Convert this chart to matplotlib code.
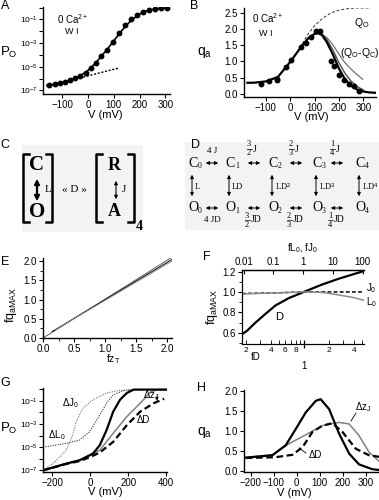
import numpy as np
import matplotlib
matplotlib.use("Agg")
import matplotlib.pyplot as plt
from matplotlib.patches import Rectangle, FancyArrowPatch
from matplotlib.lines import Line2D
from matplotlib.ticker import FixedLocator, FixedFormatter, NullLocator, MultipleLocator

plt.rcParams["font.family"] = ["Liberation Sans", "DejaVu Sans"]
plt.rcParams["mathtext.fontset"] = "custom"
plt.rcParams["mathtext.rm"] = "Liberation Sans"
plt.rcParams["mathtext.it"] = "Liberation Sans:italic"
plt.rcParams["mathtext.bf"] = "Liberation Sans:bold"

W, H = 379, 500

# ---- panel A: Po(V), log10 values
a_dot_v = [-152, -130, -110, -90, -70, -50, -30, -10, 10, 30, 50, 72, 95, 120, 145, 166, 188, 212, 236, 260, 283, 305]
a_dot_logp = [-6.52, -6.45, -6.37, -6.27, -6.15, -5.98, -5.75, -5.5, -5.12, -4.65, -4.12, -3.55, -2.9, -2.15, -1.5, -1.0, -0.62, -0.35, -0.2, -0.1, -0.07, -0.06]
a_line_v = [-160, -125, -100, -75, -50, -25, 0, 25, 50, 75, 100, 125, 150, 175, 200, 225, 250, 275, 312]
a_line_logp = [-6.58, -6.45, -6.33, -6.18, -5.98, -5.68, -5.3, -4.78, -4.15, -3.5, -2.8, -2.1, -1.45, -0.95, -0.55, -0.3, -0.15, -0.08, -0.05]
a_slope_v = [-160, 120]
a_slope_logp = [-6.66, -5.1]

# ---- panel B: qa(V)
b_dot_v = [-121, -86, -55, -55, -18, 3, 44, 64, 85, 105, 123, 167, 181, 201, 222, 242, 260, 284]
b_dot_q = [0.31, 0.39, 0.41, 0.46, 0.83, 1.04, 1.43, 1.56, 1.75, 1.93, 1.93, 1.01, 0.86, 0.57, 0.42, 0.31, 0.23, 0.08]
b_fit_v = [-175, -150, -100, -50, 0, 25, 50, 75, 100, 115, 130, 150, 175, 200, 225, 250, 275, 300, 325, 352]
b_fit_q = [0.34, 0.34, 0.38, 0.52, 0.98, 1.24, 1.5, 1.72, 1.85, 1.87, 1.82, 1.6, 1.22, 0.78, 0.45, 0.25, 0.13, 0.07, 0.04, 0.03]
b_mid_v = [115, 130, 150, 175, 200, 225, 250, 275, 300]
b_mid_q = [1.87, 1.84, 1.68, 1.36, 0.96, 0.63, 0.39, 0.22, 0.12]
b_diff_v = [115, 130, 150, 175, 200, 225, 250, 275, 297]
b_diff_q = [1.87, 1.84, 1.74, 1.52, 1.22, 0.96, 0.76, 0.59, 0.45]
b_qo_v = [40, 50, 75, 100, 125, 150, 175, 200, 225, 250, 275, 300, 330]
b_qo_q = [1.42, 1.55, 1.86, 2.1, 2.28, 2.42, 2.52, 2.58, 2.62, 2.64, 2.65, 2.65, 2.65]

# ---- panel E: fqaMAX vs fzT
e_x1 = [0.0, 2.08]
e_y1 = [0.0, 2.1]
e_x2 = [0.15, 2.08]
e_y2 = [0.17, 2.04]
e_x3 = [0.2, 2.08]
e_y3 = [0.22, 2.0]

# ---- panel F
f_d_x = [0.18, 0.207, 0.262, 0.345, 0.456, 0.66, 1.0, 1.66, 2.64, 4.19, 5.3]
f_d_q = [0.585, 0.62, 0.70, 0.785, 0.868, 0.94, 1.0, 1.073, 1.13, 1.18, 1.205]
f_j0_x = [0.0087, 0.03, 0.1, 0.3, 1, 3, 10, 30, 112]
f_j0_q = [0.985, 0.988, 0.99, 0.995, 1.0, 1.0, 1.0, 1.0, 1.0]
f_l0_x = [0.0087, 0.1, 1, 3, 5, 10, 20, 50, 112]
f_l0_q = [0.98, 0.99, 1.0, 0.997, 0.993, 0.98, 0.965, 0.945, 0.918]

# ---- panel G: log10 Po(V) for the perturbed models
g_ctl_v = [-250, -128, -57, 14, 50, 86, 121, 157, 193, 229, 405]
g_ctl_logp = [-7.0, -6.42, -6.13, -5.55, -4.83, -3.52, -1.93, -0.91, -0.33, -0.04, -0.04]
g_dz_v = [-250, -128, -57, 14, 50, 121, 193, 264, 318, 355, 405]
g_dz_logp = [-7.0, -6.42, -6.13, -5.6, -5.26, -3.8, -2.36, -1.2, -0.25, -0.04, -0.04]
g_dd_v = [-250, -128, -57, 0, 50, 121, 193, 264, 336, 390]
g_dd_logp = [-7.0, -6.45, -6.2, -5.85, -5.46, -4.54, -3.1, -1.93, -1.2, -0.83]
g_dj_v = [-250, -190, -128, -93, -75, -39, 14, 86, 157, 229, 405]
g_dj_logp = [-7.0, -6.3, -5.28, -3.96, -2.8, -1.64, -0.91, -0.33, -0.1, -0.03, -0.02]
g_dl_v = [-250, -128, -57, -4, 50, 86, 121, 175, 229, 405]
g_dl_logp = [-5.0, -4.68, -4.39, -3.67, -2.22, -1.2, -0.48, -0.13, -0.03, -0.02]

# ---- panel H: qa(V) for the perturbed models
h_ctl_v = [-222, -106, -48, -4, 39, 83, 104, 141, 184, 228, 271, 329, 358]
h_ctl_q = [0.33, 0.39, 0.64, 1.05, 1.46, 1.75, 1.79, 1.54, 0.93, 0.43, 0.16, 0.04, 0.02]
h_dz_v = [-222, -106, -33, 39, 112, 184, 228, 271, 314, 358]
h_dz_q = [0.33, 0.40, 0.68, 0.9, 1.13, 1.21, 1.17, 0.88, 0.47, 0.24]
h_dd_v = [-222, -92, -19, 25, 68, 112, 155, 199, 257, 314, 358]
h_dd_q = [0.32, 0.34, 0.40, 0.59, 0.97, 1.13, 1.19, 0.97, 0.55, 0.39, 0.35]


def fx(px):
    return px / W


def fy(py):
    return 1 - py / H


def px_axes(fig, left, top, right, bottom):
    return fig.add_axes([left / W, 1 - bottom / H, (right - left) / W, (bottom - top) / H])


def style(ax):
    for s in ("top", "right"):
        ax.spines[s].set_visible(False)
    for s in ("left", "bottom"):
        ax.spines[s].set_linewidth(1.0)
    ax.tick_params(direction="out", length=3, width=0.8, labelsize=7, pad=1.5)
    ax.tick_params(which="minor", length=2, width=0.6)


def log_ticks(ax):
    ax.yaxis.set_major_locator(FixedLocator([10.0 ** k for k in range(-7, 1)]))
    labels = [r"$10^{%d}$" % k if k % 2 else "" for k in range(-7, 1)]
    ax.yaxis.set_major_formatter(FixedFormatter(labels))
    ax.yaxis.set_minor_locator(NullLocator())
    ax.tick_params(axis="y", labelsize=6, pad=1)


def label(fig, px, py, s, **kw):
    kw.setdefault("fontsize", 7)
    fig.text(fx(px), fy(py), s, ha=kw.pop("ha", "center"), va=kw.pop("va", "center"), **kw)


def arrow(fig, p0, p1, lw=0.8, ms=6, style="<|-|>"):
    a = FancyArrowPatch((fx(p0[0]), fy(p0[1])), (fx(p1[0]), fy(p1[1])),
                        arrowstyle=style, mutation_scale=ms, lw=lw, color="k",
                        transform=fig.transFigure)
    fig.add_artist(a)


def bracket(fig, x, y0, y1, dx, lw=1.8):
    pts_x = [fx(x + dx), fx(x), fx(x), fx(x + dx)]
    pts_y = [fy(y0), fy(y0), fy(y1), fy(y1)]
    fig.add_artist(Line2D(pts_x, pts_y, color="k", lw=lw, transform=fig.transFigure))


def serif(fig, px, py, s, size=9, **kw):
    label(fig, px, py, s, fontsize=size, family=["Liberation Serif", "DejaVu Serif"], **kw)


def frac(fig, px, py, num, den, suffix):
    serif(fig, px, py - 4.5, num, size=6)
    serif(fig, px, py + 4.5, den, size=6)
    fig.add_artist(Line2D([fx(px - 2.5), fx(px + 2.5)], [fy(py), fy(py)], color="k", lw=0.5,
                          transform=fig.transFigure))
    serif(fig, px + 4, py, suffix, size=7, ha="left")


def node(fig, px, py, letter, sub):
    serif(fig, px, py, letter, size=10)
    serif(fig, px + 5, py + 3, sub, size=5.5, ha="left")


fig = plt.figure(figsize=(W / 100, H / 100), dpi=100)

# ---------------- A
ax = px_axes(fig, 43, 7, 170, 94)
style(ax)
ax.set_yscale("log")
ax.plot(a_line_v, 10 ** np.array(a_line_logp), color="k", lw=1.2)
ax.plot(a_slope_v, 10 ** np.array(a_slope_logp), color="k", lw=1.0, ls=(0, (1.5, 1.2)))
ax.plot(a_dot_v, 10 ** np.array(a_dot_logp), "o", color="k", ms=3.2)
ax.set_xlim(-175, 318)
ax.set_ylim(10 ** -7.3, 10 ** 0.05)
log_ticks(ax)
ax.set_xticks([-100, 0, 100, 200, 300])
label(fig, 105, 115, "V (mV)", fontsize=8)
label(fig, 9, 52, r"P$_\mathrm{O}$", fontsize=9.5)
label(fig, 73, 19, r"0 Ca$^{2+}$", fontsize=7)
label(fig, 72, 32, "W I", fontsize=6.5)

# ---------------- B
ax = px_axes(fig, 244, 8, 376, 97)
style(ax)
ax.plot(b_qo_v, b_qo_q, color="0.2", lw=0.7, ls=(0, (3, 2)))
ax.plot(b_diff_v, b_diff_q, color="0.45", lw=0.9)
ax.plot(b_mid_v, b_mid_q, color="0.3", lw=1.0)
ax.plot(b_fit_v, b_fit_q, color="k", lw=1.6)
ax.plot(b_dot_v, b_dot_q, "o", color="k", ms=3.2)
ax.set_xlim(-189, 352)
ax.set_ylim(-0.1, 2.65)
ax.set_xticks([-100, 0, 100, 200, 300])
ax.set_yticks([0.0, 0.5, 1.0, 1.5, 2.0, 2.5])
ax.yaxis.set_major_formatter(FixedFormatter(["0.0", "0.5", "1.0", "1.5", "2.0", "2.5"]))
label(fig, 311, 117, "V (mV)", fontsize=8)
label(fig, 205, 52, r"q$_\mathrm{a}$", fontsize=10)
label(fig, 268, 18, r"0 Ca$^{2+}$", fontsize=7)
label(fig, 266, 33, "W I", fontsize=6.5)
label(fig, 362, 23, r"Q$_\mathrm{O}$", fontsize=7.5)
label(fig, 360, 53, r"(Q$_\mathrm{O}$-Q$_\mathrm{C}$)", fontsize=7.5)

# ---------------- C scheme
fig.add_artist(Rectangle((fx(22), fy(232)), (143 - 22) / W, (232 - 145) / H,
                         transform=fig.transFigure, facecolor="#f3f3f3", edgecolor="none"))
bracket(fig, 23, 154, 222, 6)
bracket(fig, 52, 154, 222, -6)
bracket(fig, 96, 154, 222, 6)
bracket(fig, 134, 154, 222, -6)
serif(fig, 37, 165, "C", size=15, weight="bold")
serif(fig, 37, 212, "O", size=15, weight="bold")
serif(fig, 114, 165, "R", size=13, weight="bold")
serif(fig, 114, 212, "A", size=13, weight="bold")
arrow(fig, (37, 176), (37, 204), lw=1.6, ms=7)
arrow(fig, (116, 178), (116, 202), lw=0.8, ms=5)
serif(fig, 45, 190, "L", size=8, ha="left")
serif(fig, 122, 190, "J", size=8, ha="left")
serif(fig, 74, 190, "\u00ab D \u00bb", size=8)
serif(fig, 139, 227, "4", size=10, weight="bold")

# ---------------- D scheme
fig.add_artist(Rectangle((fx(185), fy(230)), (379 - 185) / W, (230 - 142) / H,
                         transform=fig.transFigure, facecolor="#f3f3f3", edgecolor="none"))
xs = [193, 230, 273, 317, 360]
subs = ["0", "1", "2", "3", "4"]
vlabels = ["L", "LD", r"LD$^2$", r"LD$^3$", r"LD$^4$"]
for x, s, vl in zip(xs, subs, vlabels):
    node(fig, x, 163, "C", s)
    node(fig, x, 208, "O", s)
    arrow(fig, (x - 1, 172), (x - 1, 199), lw=0.7, ms=5)
    serif(fig, x + 2, 187, vl, size=6, ha="left")
hcent = [212, 254, 296, 337]
for c in hcent:
    arrow(fig, (c - 9, 163), (c + 9, 163), lw=0.7, ms=5)
    arrow(fig, (c - 9, 208), (c + 9, 208), lw=0.7, ms=5)
serif(fig, 212, 151, "4 J", size=6.5)
serif(fig, 212, 220, "4 JD", size=6.5)
for c, n, d in zip(hcent[1:], ["3", "2", "1"], ["2", "3", "4"]):
    frac(fig, c - 5, 149, n, d, "J")
    frac(fig, c - 7, 220, n, d, "JD")

# ---------------- E
ax = px_axes(fig, 43, 258, 172, 338)
style(ax)
ax.plot(e_x1, e_y1, color="0.35", lw=0.7)
ax.plot(e_x2, e_y2, color="k", lw=0.7)
ax.plot(e_x3, e_y3, color="0.55", lw=0.7)
ax.set_xlim(0, 2.08)
ax.set_ylim(0, 2.08)
ax.set_xticks([0, 0.5, 1.0, 1.5, 2.0])
ax.set_yticks([0, 0.5, 1.0, 1.5, 2.0])
ax.xaxis.set_major_formatter(FixedFormatter(["0.0", "0.5", "1.0", "1.5", "2.0"]))
ax.yaxis.set_major_formatter(FixedFormatter(["0.0", "0.5", "1.0", "1.5", "2.0"]))
ax.xaxis.set_minor_locator(MultipleLocator(0.25))
ax.yaxis.set_minor_locator(MultipleLocator(0.25))
label(fig, 113, 359, r"fz$_\mathrm{T}$", fontsize=7.5)
label(fig, 11, 305, r"fq$_\mathrm{aMAX}$", fontsize=9, rotation=90)

# ---------------- F
ax = px_axes(fig, 242, 270, 364, 344)
ax.set_xscale("log")
ax.plot(f_d_x, f_d_q, color="k", lw=1.6)
ax.set_xlim(0.18, 5.3)
ax.set_ylim(0.49, 1.215)
ax.spines["right"].set_visible(False)
ax.spines["top"].set_linewidth(1.0)
ax.xaxis.set_major_locator(FixedLocator([1.0]))
ax.xaxis.set_major_formatter(FixedFormatter(["1"]))
ax.xaxis.set_minor_locator(FixedLocator([0.2, 0.3, 0.4, 0.5, 0.6, 0.7, 0.8, 0.9, 2, 3, 4, 5]))
ax.xaxis.set_minor_formatter(FixedFormatter(["2", "", "4", "", "6", "", "8", "", "2", "", "4", ""]))
ax.tick_params(axis="x", which="major", direction="inout", length=6, width=0.9, labelsize=7, pad=9)
ax.tick_params(axis="x", which="minor", direction="in", length=3, width=0.6, labelsize=6, pad=2)
ax.set_yticks([0.6, 0.8, 1.0, 1.2])
ax.yaxis.set_minor_locator(FixedLocator([0.5, 0.7, 0.9, 1.1]))
ax.tick_params(axis="y", which="major", direction="out", length=3, width=0.8, labelsize=7, pad=1.5)
ax.tick_params(axis="y", which="minor", direction="out", length=2, width=0.6)
top = ax.twiny()
top.set_xscale("log")
top.set_xlim(0.0087, 112)
top.plot(f_j0_x, f_j0_q, color="k", lw=1.1, ls=(0, (2.5, 1.5)))
top.plot(f_l0_x, f_l0_q, color="0.55", lw=1.1)
top.spines["right"].set_visible(False)
top.xaxis.set_major_locator(FixedLocator([0.01, 0.1, 1, 10, 100]))
top.xaxis.set_major_formatter(FixedFormatter(["0.01", "0.1", "1", "10", "100"]))
top.xaxis.set_minor_locator(NullLocator())
top.tick_params(axis="x", direction="in", length=3, width=0.8, labelsize=7, pad=2)
label(fig, 302, 248, r"fL$_\mathrm{0}$, fJ$_\mathrm{0}$", fontsize=7)
label(fig, 256, 357, "fD", fontsize=7)
label(fig, 279, 317, "D", fontsize=8)
label(fig, 366, 288, r"J$_\mathrm{0}$", fontsize=7, ha="left")
label(fig, 366, 302, r"L$_\mathrm{0}$", fontsize=7, ha="left")
label(fig, 212, 307, r"fq$_\mathrm{aMAX}$", fontsize=9, rotation=90)

# ---------------- G
ax = px_axes(fig, 43, 388, 167, 472)
style(ax)
ax.set_yscale("log")
ax.plot(g_dj_v, 10 ** np.array(g_dj_logp), color="0.45", lw=0.8, ls=(0, (1, 1.2)))
ax.plot(g_dl_v, 10 ** np.array(g_dl_logp), color="0.2", lw=0.8, ls=(0, (1, 1.2)))
ax.plot(g_dz_v, 10 ** np.array(g_dz_logp), color="0.5", lw=1.1)
ax.plot(g_dd_v, 10 ** np.array(g_dd_logp), color="k", lw=1.6, ls=(0, (3, 1.6)))
ax.plot(g_ctl_v, 10 ** np.array(g_ctl_logp), color="k", lw=1.6)
ax.set_xlim(-250, 405)
ax.set_ylim(10 ** -7.14, 10 ** 0.1)
log_ticks(ax)
ax.set_xticks([-200, 0, 200, 400])
label(fig, 105, 492, "V (mV)", fontsize=8)
label(fig, 9, 428, r"P$_\mathrm{O}$", fontsize=9.5)
label(fig, 70, 403, "\u0394J$_\\mathrm{0}$", fontsize=7)
label(fig, 57, 435, "\u0394L$_\\mathrm{0}$", fontsize=7)
label(fig, 151, 395, "\u0394z$_\\mathrm{J}$", fontsize=7)
label(fig, 143, 420, "\u0394D", fontsize=7)
arrow(fig, (157, 397), (157, 403), lw=0.6, ms=4, style="-|>")

# ---------------- H
ax = px_axes(fig, 244, 390, 379, 472)
style(ax)
ax.plot(h_dz_v, h_dz_q, color="0.5", lw=1.1)
ax.plot(h_dd_v, h_dd_q, color="k", lw=1.6, ls=(0, (3, 1.6)))
ax.plot(h_ctl_v, h_ctl_q, color="k", lw=1.6)
ax.set_xlim(-230, 358)
ax.set_ylim(-0.03, 2.02)
ax.set_xticks([-200, -100, 0, 100, 200, 300])
ax.set_yticks([0.0, 0.5, 1.0, 1.5, 2.0])
ax.yaxis.set_major_formatter(FixedFormatter(["0.0", "0.5", "1.0", "1.5", "2.0"]))
label(fig, 294, 493, "V (mV)", fontsize=8)
label(fig, 205, 432, r"q$_\mathrm{a}$", fontsize=10)
label(fig, 363, 407, "\u0394z$_\\mathrm{J}$", fontsize=7)
label(fig, 315, 455, "\u0394D", fontsize=7)
fig.add_artist(Line2D([fx(356), fx(351)], [fy(413), fy(421)], color="k", lw=0.6, transform=fig.transFigure))
fig.add_artist(Line2D([fx(306), fx(299)], [fy(453), fy(448)], color="k", lw=0.6, transform=fig.transFigure))

# panel letters
for s, px, py in [("A", 5, 6), ("B", 194, 6), ("C", 5, 145), ("D", 195, 145),
                  ("E", 5, 262), ("F", 207, 257), ("G", 5, 383), ("H", 201, 388)]:
    label(fig, px, py, s, fontsize=9)

fig.savefig("out.png", dpi=100)
